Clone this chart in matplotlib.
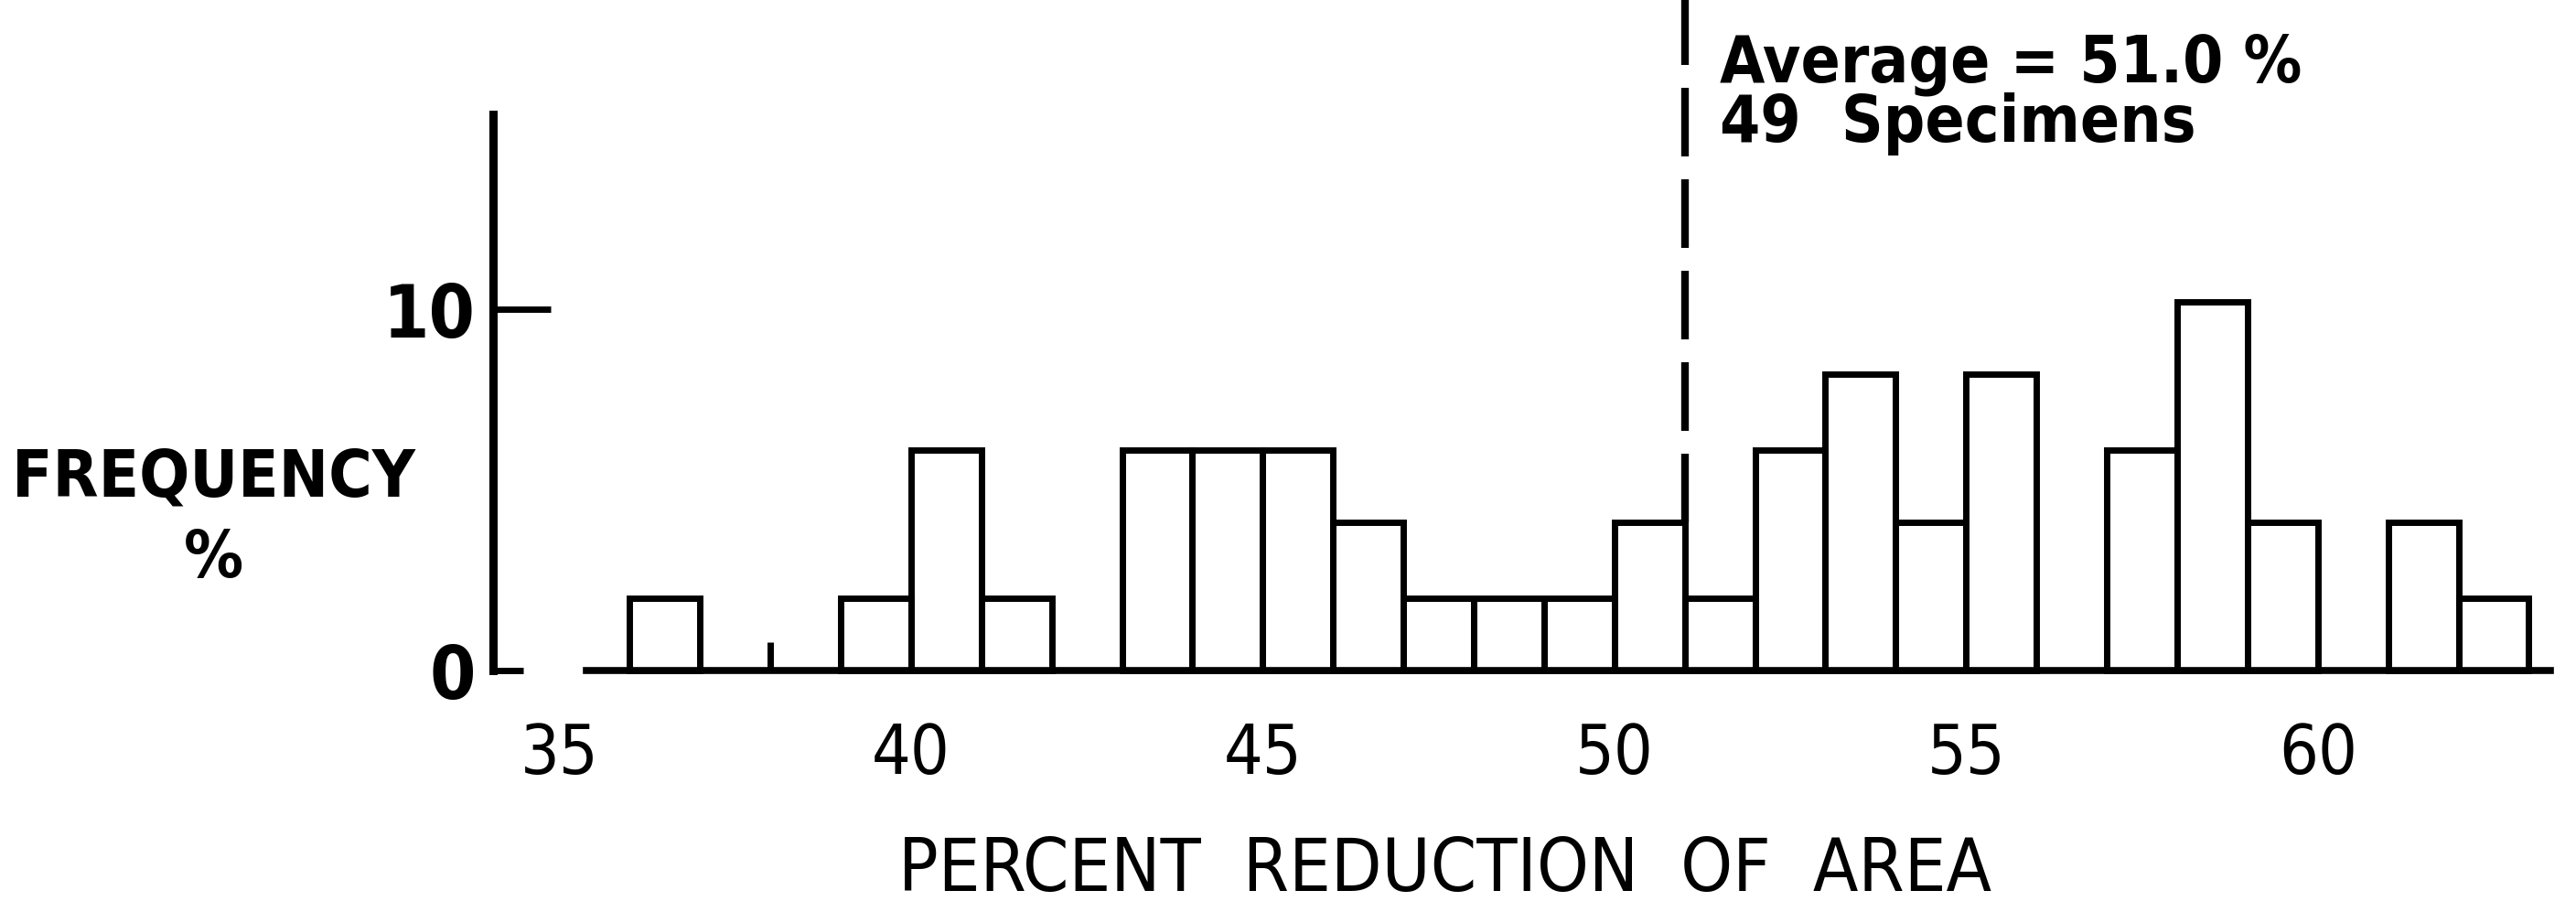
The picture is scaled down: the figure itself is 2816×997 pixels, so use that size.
import matplotlib
matplotlib.use('Agg')
import matplotlib.pyplot as plt
from matplotlib import font_manager as fm

# histogram bins (left edge of each 1%-wide class) and frequency in percent
bin_left = [36, 39, 40, 41, 43, 44, 45, 46, 47, 48, 49, 50, 51, 52, 53, 54, 55, 57, 58, 59, 61, 62]
freq_pct = [2.0, 2.0, 6.1, 2.0, 6.1, 6.1, 6.1, 4.1, 2.0, 2.0, 2.0, 4.1, 2.0, 6.1, 8.2, 4.1, 8.2, 6.1, 10.2, 4.1, 4.1, 2.0]
average = 51.0
n_specimens = 49
xticks = [35, 40, 45, 50, 55, 60]
yticks = [0, 10]


def narrow_font(bold=False):
    # look for a condensed / narrow sans face, fall back to DejaVu Sans
    best = None
    for f in fm.fontManager.ttflist:
        if 'Sans' not in f.name or 'Serif' in f.name or 'Mono' in f.name:
            continue
        narrowish = ('Narrow' in f.name or 'Condensed' in f.name or
                     str(f.stretch) in ('condensed', 'semi-condensed'))
        if not narrowish or f.style != 'normal':
            continue
        w = f.weight if isinstance(f.weight, int) else (700 if 'bold' in str(f.weight) else 400)
        if (w >= 600) != bold:
            continue
        if best is None or 'Liberation' in f.name:
            best = f
    if best is not None:
        return {'fname': best.fname}
    return {'family': 'DejaVu Sans', 'weight': 'bold' if bold else 'normal'}


reg = narrow_font(False)
bld = narrow_font(True)

fig = plt.figure(figsize=(28.16, 9.97), dpi=100)
ax = fig.add_axes([0, 0, 1, 1])
ax.set_xlim(27.05, 63.67)
ax.set_ylim(-6.68, 18.56)

ax.bar(bin_left, freq_pct, width=1.0, align='edge', fill=False,
       edgecolor='black', linewidth=5)

# average line, dashed, from top of the class at 50 up to the top
h50 = freq_pct[bin_left.index(50)]
ax.vlines(average, h50, 18.6, colors='black', linewidth=6,
          linestyles=(0, (9, 3)))
ax.text(51.5, 16.78, 'Average = %.1f %%' % average,
        fontproperties=fm.FontProperties(size=51, **bld),
        ha='left', va='center')
ax.text(51.5, 15.12, '%d  Specimens' % n_specimens,
        fontproperties=fm.FontProperties(size=51, **bld),
        ha='left', va='center')

# axes styling
for s in ['top', 'right']:
    ax.spines[s].set_visible(False)
ax.spines['left'].set_position(('data', 34.06))
ax.spines['left'].set_bounds(0, 15.4)
ax.spines['bottom'].set_position(('data', 0))
ax.spines['bottom'].set_bounds(35.39, 63.3)
ax.spines['left'].set_linewidth(6.5)
ax.spines['bottom'].set_linewidth(5.5)

ax.set_xticks(xticks)
ax.set_xticklabels([str(t) for t in xticks],
                   fontproperties=fm.FontProperties(size=54, **reg))
ax.tick_params(axis='x', length=0, pad=40)
ax.set_xticks([38], minor=True)
ax.tick_params(axis='x', which='minor', direction='in', length=22, width=5)

ax.set_yticks(yticks)
ax.set_yticklabels([str(t) for t in yticks],
                   fontproperties=fm.FontProperties(size=58, **bld))
ax.tick_params(axis='y', direction='in', length=45, width=5, pad=14)
ax.yaxis.get_major_ticks()[0].tick1line.set_markersize(24)

ax.set_ylabel('FREQUENCY\n%', rotation=0, linespacing=1.35,
              fontproperties=fm.FontProperties(size=52, **bld),
              ha='center', va='center')
ax.yaxis.set_label_coords(0.083, 0.431)
ax.set_xlabel('PERCENT  REDUCTION  OF  AREA',
              fontproperties=fm.FontProperties(size=58, **reg), va='center')
ax.xaxis.set_label_coords(0.561, 0.045)

fig.savefig('out.png', dpi=100)
